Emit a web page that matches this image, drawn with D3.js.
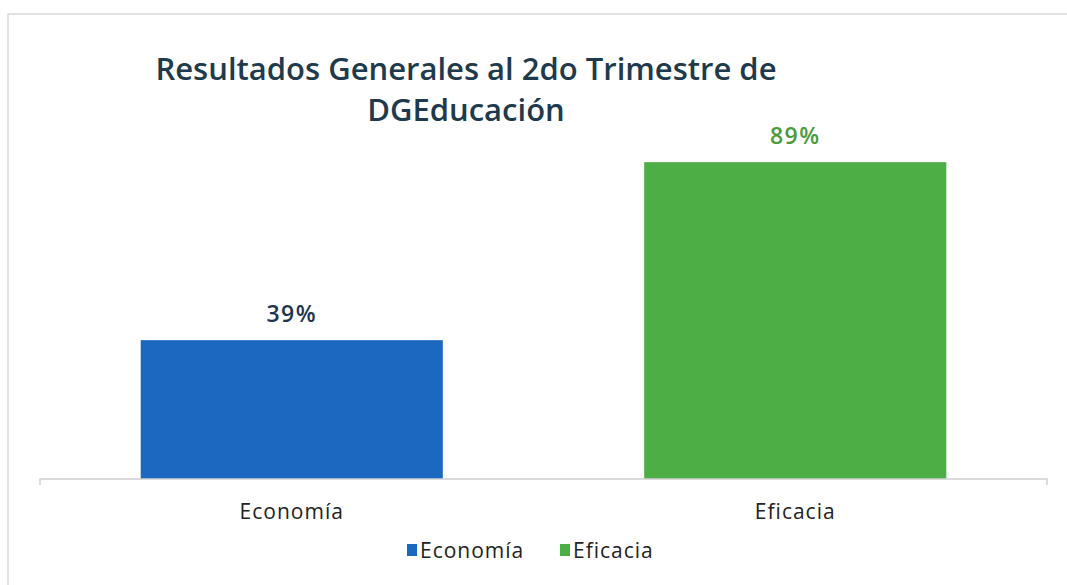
<!DOCTYPE html>
<html>
<head>
<meta charset="utf-8">
<script src="https://cdn.jsdelivr.net/npm/d3@7"></script>
<style>
  body { margin: 0; background: #fff; }
  svg { font-family: "Open Sans", "DejaVu Sans", sans-serif; }
</style>
</head>
<body>
<svg id="chart" width="1067" height="585"></svg>
<script>
// data
const categories = ["Economía", "Eficacia"];
const values = [39, 89];
const labels = ["39%", "89%"];
const colors = ["#1c67c0", "#4cae45"];
const labelColors = ["#1f3550", "#4b9a3c"];
const titleLines = ["Resultados Generales al 2do Trimestre de", "DGEducación"];

const svg = d3.select("#chart");
const W = +svg.attr("width"), H = +svg.attr("height");
const M = { top: 123, right: 20, bottom: 106, left: 40 };
const innerW = W - M.left - M.right, innerH = H - M.top - M.bottom;

// frame of the chart area
svg.append("rect").attr("x", 8).attr("y", 14).attr("width", W).attr("height", H)
  .attr("fill", "none").attr("stroke", "#d9d9d9").attr("stroke-width", 1.5);

const g = svg.append("g").attr("transform", `translate(${M.left},${M.top})`);

const x = d3.scaleBand().domain(categories).range([0, innerW]).paddingInner(0.4).paddingOuter(0.2);
const y = d3.scaleLinear().domain([0, 100]).range([innerH, 0]);

// bars
g.selectAll("rect.bar").data(values).join("rect").attr("class", "bar")
  .attr("x", (d, i) => x(categories[i]))
  .attr("width", x.bandwidth())
  .attr("y", d => y(d))
  .attr("height", d => y(0) - y(d))
  .attr("fill", (d, i) => colors[i]);

// value labels
g.selectAll("text.val").data(values).join("text").attr("class", "val")
  .attr("x", (d, i) => x(categories[i]) + x.bandwidth() / 2)
  .attr("y", d => y(d) - 18)
  .attr("text-anchor", "middle")
  .style("font-size", "23px").style("font-weight", 600).style("letter-spacing", "1.5px")
  .attr("fill", (d, i) => labelColors[i])
  .text((d, i) => labels[i]);

// x axis
const gx = g.append("g").attr("transform", `translate(0,${innerH})`)
  .call(d3.axisBottom(x).tickSize(0).tickPadding(24));
gx.select(".domain").attr("stroke", "#d0d0d0").attr("stroke-width", 1.5)
  .attr("d", `M0,6V0H${innerW}V6`);
gx.selectAll(".tick text").attr("y", 40).attr("dy", 0)
  .style("font-size", "21px").style("letter-spacing", "1px").attr("fill", "#222")
  .style("font-family", "'Open Sans', sans-serif");

// title
svg.append("text").attr("x", 467).attr("y", 80).attr("text-anchor", "middle")
  .attr("fill", "#1e3a4c").style("font-size", "31px").style("font-weight", 600)
  .selectAll("tspan").data(titleLines).join("tspan")
  .attr("x", 466).attr("dy", (d, i) => i ? 41 : 0).text(d => d);

// legend
const legend = svg.append("g").attr("transform", `translate(0,558)`);
const lx = [407, 560];
categories.forEach((c, i) => {
  legend.append("rect").attr("x", lx[i]).attr("y", -14).attr("width", 10).attr("height", 12).attr("fill", colors[i]);
  legend.append("text").attr("x", lx[i] + 13).attr("y", 0)
    .style("font-size", "21px").style("letter-spacing", "1px").attr("fill", "#222").text(c);
});
</script>
</body>
</html>
